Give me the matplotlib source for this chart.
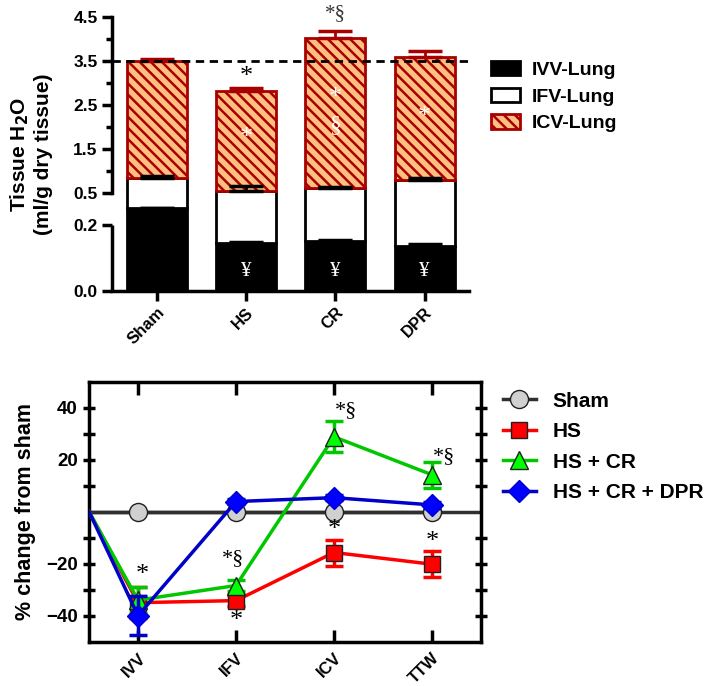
import matplotlib
matplotlib.use("Agg")
import matplotlib.pyplot as plt
import matplotlib.patches as mpatches
from matplotlib.lines import Line2D
import numpy as np

plt.rcParams['font.family'] = ['Liberation Sans', 'DejaVu Sans']
plt.rcParams['font.weight'] = 'bold'
plt.rcParams['hatch.linewidth'] = 1.8

# ---- top panel data (ml/g dry tissue) ----
groups = ['Sham', 'HS', 'CR', 'DPR']
ivv = np.array([0.36, 0.145, 0.152, 0.138])
ifv = np.array([0.495, 0.414, 0.462, 0.664])
icv = np.array([2.65, 2.266, 3.422, 2.788])
ivv_err = np.array([0.004, 0.004, 0.004, 0.004])
ifv_err = np.array([0.035, 0.11, 0.02, 0.04])
icv_err = np.array([0.035, 0.06, 0.15, 0.15])
seg_names = ['IVV-Lung', 'IFV-Lung', 'ICV-Lung']

# ---- bottom panel data (% change from sham) ----
compartments = ['IVV', 'IFV', 'ICV', 'TTW']
sham = [0, 0, 0, 0]
hs = [-35, -34.2, -15.7, -20.2]
hs_err = [6, 2, 5, 5]
hs_cr = [-34, -28.4, 28.8, 14.2]
hs_cr_err = [5, 2, 6, 5]
hs_cr_dpr = [-40, 3.9, 5.4, 2.6]
hs_cr_dpr_err = [7.5, 1, 1, 1]

ORANGE = '#FFBF80'
DARKRED = '#A80000'

fig = plt.figure(figsize=(7.10, 6.86), dpi=100)

# ================= top: stacked bars with broken y axis =================
ax = fig.add_axes([0.158, 0.576, 0.503, 0.399])
brk_v = [-1.0, 0.0, 0.2, 0.5, 4.5, 10.0]
brk_p = [-327.0, 0.0, 65.4, 97.4, 273.4, 273.4 + 5.5 * 44]


def fwd(v):
    return np.interp(v, brk_v, brk_p)


def inv(p):
    return np.interp(p, brk_p, brk_v)


ax.set_yscale('function', functions=(fwd, inv))
x = np.arange(len(groups))
w = 0.67
ax.bar(x, ivv, w, color='black', edgecolor='black', lw=2, zorder=2)
ax.bar(x, ifv, w, bottom=ivv, color='white', edgecolor='black', lw=2, zorder=2)
ax.bar(x, icv, w, bottom=ivv + ifv, color=ORANGE, edgecolor=DARKRED, lw=2,
       hatch='\\\\\\', zorder=2)

z = np.zeros(len(groups))
ax.errorbar(x, ivv, yerr=[z, ivv_err], fmt='none', ecolor='black', capsize=12, capthick=2.5, elinewidth=2, zorder=3)
ax.errorbar(x, ivv + ifv, yerr=[z, ifv_err], fmt='none', ecolor='black', capsize=12, capthick=2.5, elinewidth=2, zorder=3)
ax.errorbar(x, ivv + ifv + icv, yerr=[z, icv_err], fmt='none', ecolor=DARKRED, capsize=12, capthick=2.5, elinewidth=2, zorder=3)

ax.axhline(3.5, color='black', ls=(0, (3, 2)), lw=2, zorder=4)

ax.set_xlim(-0.5, 3.5)
ax.set_ylim(0, 4.5)
ax.set_yticks([0, 0.2, 0.5, 1.5, 2.5, 3.5, 4.5])
ax.set_yticklabels(['0.0', '0.2', '0.5', '1.5', '2.5', '3.5', '4.5'])
ax.set_yticks([1, 2, 3, 4], minor=True)
ax.set_xticks(x)
ax.set_xticklabels(groups, rotation=45, ha='right', rotation_mode='anchor')
ax.tick_params(axis='both', which='major', direction='out', length=7, width=2.5, labelsize=12.5)
ax.tick_params(axis='y', which='minor', direction='out', length=4, width=2.5)
ax.tick_params(axis='x', labelsize=12, pad=3)
for s in ['top', 'right']:
    ax.spines[s].set_visible(False)
ax.spines['bottom'].set_linewidth(2.5)
ax.spines['left'].set_linewidth(2.5)
ax.spines['left'].set_bounds(0.5, 4.5)
ax.plot([0, 0], [0, 0.2], transform=ax.get_yaxis_transform(), color='black', lw=2.5,
        clip_on=False, solid_capstyle='butt')
ax.set_ylabel('Tissue H$_\\mathbf{2}$O\n(ml/g dry tissue)', fontsize=15, fontweight='bold')
ax.yaxis.set_label_coords(-0.165, 0.5)

serif = ['Liberation Serif', 'DejaVu Serif']
ax.text(1, 3.15, '*', ha='center', va='center', fontsize=19, family=serif, fontweight='normal')
ax.text(2, 4.58, '*§', ha='center', va='center', fontsize=15, family=serif, fontweight='normal',
        color='#333333', clip_on=False)
ax.text(1, 1.75, '*', ha='center', va='center', fontsize=19, family=serif, color='white', fontweight='normal')
ax.text(2, 2.66, '*', ha='center', va='center', fontsize=19, family=serif, color='white', fontweight='normal')
ax.text(2, 2.04, '§', ha='center', va='center', fontsize=17, family=serif, color='white', fontweight='normal')
ax.text(3, 2.24, '*', ha='center', va='center', fontsize=19, family=serif, color='white', fontweight='normal')
for i in [1, 2, 3]:
    ax.text(i, 0.058, '¥', ha='center', va='center', fontsize=15, family=serif, color='white', fontweight='normal')

leg1 = [mpatches.Patch(facecolor='black', edgecolor='black', lw=2, label=seg_names[0]),
        mpatches.Patch(facecolor='white', edgecolor='black', lw=2, label=seg_names[1]),
        mpatches.Patch(facecolor=ORANGE, edgecolor=DARKRED, lw=2, hatch='\\\\\\', label=seg_names[2])]
fig.legend(handles=leg1, loc='upper left', bbox_to_anchor=(0.692, 0.911), frameon=False,
           fontsize=14, handlelength=1.45, handleheight=0.75, handletextpad=0.65, labelspacing=0.45,
           borderpad=0, borderaxespad=0)

# ================= bottom: % change line plot =================
ax2 = fig.add_axes([0.1254, 0.0646, 0.552, 0.379])
xc = np.arange(len(compartments))
x0 = -0.5
ax2.set_xlim(x0, 3.5)
ax2.set_ylim(-50, 50)
xs = np.concatenate([[x0], xc])

ax2.axhline(0, color='#303030', lw=2.5, zorder=1)
series = [
    ('Sham', sham, None, '#303030', 'o', '#D0D0D0', 13),
    ('HS', hs, hs_err, '#FF0000', 's', '#FF0000', 11.5),
    ('HS + CR', hs_cr, hs_cr_err, '#00C800', '^', '#00FF00', 12.5),
    ('HS + CR + DPR', hs_cr_dpr, hs_cr_dpr_err, '#0000C8', 'D', '#0000FF', 11),
]
handles = []
for k, (name, vals, err, col, mk, fc, ms) in enumerate(series):
    ys = np.concatenate([[0], vals])
    ax2.plot(xs, ys, color=col, lw=2.5, zorder=2 + k)
    if err is not None:
        ax2.errorbar(xc, vals, yerr=err, fmt='none', ecolor=col, elinewidth=2.5,
                     capsize=6.5, capthick=2.5, zorder=2 + k)
    ax2.plot(xc, vals, ls='none', marker=mk, ms=ms, mfc=fc, mec='#202020' if k < 3 else col,
             mew=1, zorder=2.5 + k)
    handles.append(Line2D([0], [0], color=col, lw=2.5, marker=mk, ms=ms, mfc=fc,
                          mec='#202020' if k < 3 else col, mew=1, label=name))

ax2.set_yticks([-40, -20, 20, 40])
ax2.set_yticks([-30, -10, 10, 30], minor=True)
ax2.set_xticks(xc)
ax2.set_xticklabels(compartments, rotation=45, ha='right', rotation_mode='anchor')
ax2.tick_params(axis='y', which='both', direction='inout', length=9, width=2.5, labelsize=13.5, right=True)
ax2.tick_params(axis='x', direction='in', length=9, width=2.5, labelsize=12, top=True, pad=6)
for s in ax2.spines.values():
    s.set_linewidth(2.5)
ax2.set_ylabel('% change from sham', fontsize=15.5, fontweight='bold')
ax2.yaxis.set_label_coords(-0.135, 0.5)

ax2.text(0.04, -24.5, '*', ha='center', va='center', fontsize=19, family=serif, fontweight='normal')
ax2.text(0.97, -18, '*§', ha='center', va='center', fontsize=16, family=serif, fontweight='normal')
ax2.text(1, -41.9, '*', ha='center', va='center', fontsize=19, family=serif, fontweight='normal')
ax2.text(2.12, 38.7, '*§', ha='center', va='center', fontsize=16, family=serif, fontweight='normal')
ax2.text(2, -7.1, '*', ha='center', va='center', fontsize=19, family=serif, fontweight='normal')
ax2.text(3.12, 21.3, '*§', ha='center', va='center', fontsize=16, family=serif, fontweight='normal')
ax2.text(3, -11.6, '*', ha='center', va='center', fontsize=19, family=serif, fontweight='normal')

fig.legend(handles=handles, loc='upper left', bbox_to_anchor=(0.708, 0.429), frameon=False,
           fontsize=15, handlelength=1.6, handletextpad=0.8, labelspacing=0.55,
           borderpad=0, borderaxespad=0)

fig.savefig('out.png', dpi=100)
